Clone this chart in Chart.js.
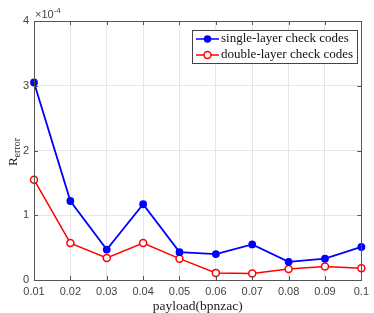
<!DOCTYPE html>
<html>
<head>
<meta charset="utf-8">
<script src="https://cdn.jsdelivr.net/npm/chart.js@4/dist/chart.umd.min.js"></script>
<style>
  html, body { margin: 0; padding: 0; background: #fff; }
  #wrap { width: 374px; height: 313px; }
</style>
</head>
<body>
<div id="wrap"><canvas id="c" width="374" height="313"></canvas></div>
<script>
// payload values (bpnzac)
const payloads = ['0.01', '0.02', '0.03', '0.04', '0.05', '0.06', '0.07', '0.08', '0.09', '0.1'];
// R_error, in units of 1e-4
const singleLayer = [3.05, 1.22, 0.47, 1.17, 0.43, 0.40, 0.55, 0.28, 0.33, 0.51];
const doubleLayer = [1.55, 0.57, 0.34, 0.57, 0.33, 0.11, 0.10, 0.17, 0.21, 0.18];
const yTicks = [0, 1, 2, 3, 4];

const serif = '"Times New Roman", "Liberation Serif", serif';
const sans = '"Liberation Sans", Arial, sans-serif';

// frame, inward ticks, legend box, y title, exponent label
const decorations = {
  id: 'decorations',
  afterDraw(chart) {
    const ctx = chart.ctx;
    const a = chart.chartArea;
    const xs = chart.scales.x, ys = chart.scales.y;
    ctx.save();
    ctx.strokeStyle = '#555';
    ctx.lineWidth = 1;
    ctx.beginPath();
    payloads.forEach((p, i) => {
      const x = Math.round(xs.getPixelForValue(i)) + 0.5;
      ctx.moveTo(x, a.bottom); ctx.lineTo(x, a.bottom - 4);
      ctx.moveTo(x, a.top); ctx.lineTo(x, a.top + 4);
    });
    yTicks.forEach(v => {
      const y = Math.round(ys.getPixelForValue(v)) + 0.5;
      ctx.moveTo(a.left, y); ctx.lineTo(a.left + 4, y);
      ctx.moveTo(a.right, y); ctx.lineTo(a.right - 4, y);
    });
    ctx.stroke();
    ctx.strokeRect(Math.round(a.left) + 0.5, Math.round(a.top) + 0.5,
      Math.round(a.right - a.left), Math.round(a.bottom - a.top));

    // exponent
    ctx.fillStyle = '#444';
    ctx.textBaseline = 'alphabetic';
    ctx.textAlign = 'left';
    ctx.font = '11px ' + sans;
    ctx.fillText('\u00d710', a.left + 1, a.top - 3);
    const w = ctx.measureText('\u00d710').width;
    ctx.font = '8px ' + sans;
    ctx.fillText('-4', a.left + 1 + w, a.top - 8);

    // y title R_error
    ctx.save();
    ctx.translate(17, 152);
    ctx.rotate(-Math.PI / 2);
    ctx.fillStyle = '#222';
    ctx.font = '13px ' + serif;
    const rw = ctx.measureText('R').width;
    ctx.font = '10px ' + serif;
    const sw = ctx.measureText('error').width;
    const x0 = -(rw + sw) / 2;
    ctx.font = '13px ' + serif;
    ctx.fillText('R', x0, 0);
    ctx.font = '10px ' + serif;
    ctx.fillText('error', x0 + rw, 3);
    ctx.restore();

    // legend
    const lx = 192, ly = 30, lw = 165, lh = 33;
    ctx.fillStyle = '#fff';
    ctx.fillRect(lx, ly, lw, lh);
    ctx.strokeStyle = '#444';
    ctx.strokeRect(lx + 0.5, ly + 0.5, lw, lh);
    chart.data.datasets.forEach((ds, i) => {
      const y = ly + 9 + i * 16;
      ctx.strokeStyle = ds.borderColor;
      ctx.lineWidth = 1.5;
      ctx.beginPath();
      ctx.moveTo(lx + 4, y); ctx.lineTo(lx + 27, y);
      ctx.stroke();
      ctx.beginPath();
      ctx.arc(lx + 15.5, y, ds.pointRadius, 0, Math.PI * 2);
      ctx.fillStyle = ds.pointBackgroundColor;
      ctx.fill();
      ctx.stroke();
      ctx.fillStyle = '#111';
      ctx.font = '13px ' + serif;
      ctx.textBaseline = 'middle';
      ctx.fillText(ds.label, lx + 29, y);
    });
    ctx.restore();
  }
};

new Chart(document.getElementById('c'), {
  type: 'line',
  data: {
    labels: payloads,
    datasets: [{
      label: 'single-layer check codes',
      data: singleLayer,
      borderColor: '#0000ff',
      backgroundColor: '#0000ff',
      pointBackgroundColor: '#0000ff',
      pointBorderColor: '#0000ff',
      pointRadius: 3,
      borderWidth: 1.8,
      tension: 0
    }, {
      label: 'double-layer check codes',
      data: doubleLayer,
      borderColor: '#ff0000',
      backgroundColor: '#ff0000',
      pointBackgroundColor: '#ffffff',
      pointBorderColor: '#ff0000',
      pointRadius: 3.5,
      pointBorderWidth: 1.5,
      borderWidth: 1.5,
      tension: 0
    }]
  },
  options: {
    responsive: false,
    animation: false,
    layout: { padding: { top: 21, right: 9, left: 0, bottom: 0 } },
    plugins: {
      legend: { display: false },
      tooltip: { enabled: false }
    },
    scales: {
      x: {
        type: 'category',
        offset: false,
        grid: { color: '#e6e6e6', drawTicks: false },
        border: { display: false },
        ticks: { color: '#444', padding: 5, font: { family: sans, size: 11 }, maxRotation: 0, autoSkip: false },
        title: { display: true, text: 'payload(bpnzac)', color: '#222', padding: { top: 0, bottom: -2 }, font: { family: serif, size: 13.5 } },
        afterFit(s) { s.height = 33; }
      },
      y: {
        min: 0, max: 4,
        grid: { color: '#e6e6e6', drawTicks: false },
        border: { display: false },
        ticks: { stepSize: 1, color: '#444', padding: 5, font: { family: sans, size: 11 } },
        afterFit(s) { s.width = 34; }
      }
    }
  },
  plugins: [decorations]
});
</script>
</body>
</html>
